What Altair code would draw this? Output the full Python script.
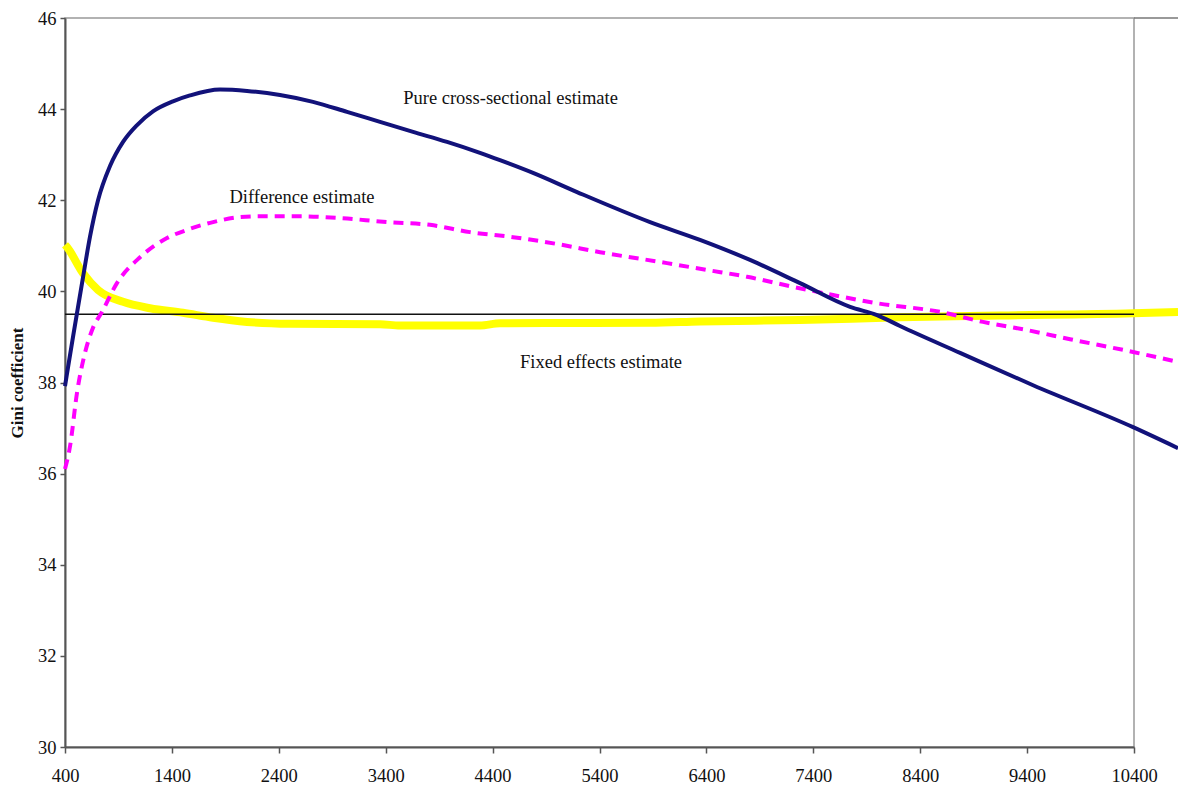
import altair as alt
import pandas as pd

# ---- data ----
cs_x = [400, 419, 475, 522, 568, 634, 709, 821, 943, 1074, 1223, 1410, 1569, 1850,
        2103, 2411, 2720, 3038, 3347, 3656, 3974, 4282, 4469, 4778, 5190, 5873,
        6340, 6808, 7276, 7744, 7996, 8211, 8773, 9456, 10391, 10812]
cs_y = [37.92, 38.2, 39.0, 39.66, 40.3, 41.2, 42.0, 42.75, 43.28, 43.65, 43.95, 44.17,
        44.3, 44.43, 44.4, 44.31, 44.16, 43.94, 43.72, 43.5, 43.28, 43.04, 42.88,
        42.6, 42.18, 41.52, 41.13, 40.69, 40.18, 39.66, 39.48, 39.24, 38.65, 37.94,
        37.02, 36.56]

diff_x = [400, 447, 512, 587, 662, 746, 886, 1102, 1354, 1541, 1785, 2037, 2252,
          2570, 2973, 3412, 3815, 4189, 4591, 5003, 5405, 6032, 6406, 6780, 7210,
          7585, 7996, 8586, 8988, 9400, 9802, 10391, 10812]
diff_y = [36.1, 36.6, 37.77, 38.65, 39.2, 39.55, 40.18, 40.75, 41.17, 41.35, 41.52,
          41.63, 41.65, 41.65, 41.61, 41.52, 41.46, 41.3, 41.19, 41.04, 40.86, 40.62,
          40.47, 40.32, 40.1, 39.92, 39.74, 39.55, 39.33, 39.15, 38.95, 38.67, 38.45]

fe_x = [400, 419, 568, 709, 943, 1195, 1504, 1785, 2103, 2505, 3347, 3534, 4282,
        4469, 5873, 6340, 7276, 8211, 9147, 10391, 10812]
fe_y = [41.02, 40.97, 40.4, 40.03, 39.77, 39.63, 39.53, 39.42, 39.33, 39.29, 39.28,
        39.25, 39.25, 39.3, 39.31, 39.34, 39.37, 39.43, 39.47, 39.52, 39.55]

ref_value = 39.5
ref_start, ref_end = 400, 10400

x_ticks = [400, 1400, 2400, 3400, 4400, 5400, 6400, 7400, 8400, 9400, 10400]
y_ticks = [30, 32, 34, 36, 38, 40, 42, 44, 46]

label_text = ["Pure cross-sectional estimate", "Difference estimate", "Fixed effects estimate"]
label_x = [4568, 2617, 5414]
label_y = [44.255, 42.07, 38.44]

# ---- tables ----
cs_df = pd.DataFrame({"x": cs_x, "y": cs_y})
diff_df = pd.DataFrame({"x": diff_x, "y": diff_y})
fe_df = pd.DataFrame({"x": fe_x, "y": fe_y})
ref_df = pd.DataFrame({"x": [ref_start], "x2": [ref_end], "y": [ref_value]})
lab_df = pd.DataFrame({"text": label_text, "x": label_x, "y": label_y})

SERIF = "Liberation Serif"

xscale = alt.Scale(domain=[400, 10400], nice=False, zero=False)
yscale = alt.Scale(domain=[30, 46], nice=False, zero=False)

x_enc = alt.X("x:Q", scale=xscale,
              axis=alt.Axis(values=x_ticks, title=None, grid=False, tickSize=6,
                            labelPadding=13, format="d", labelOverlap=False,
                            labelFlush=False, labelFontSize=18.5))
y_enc = alt.Y("y:Q", scale=yscale,
              axis=alt.Axis(values=y_ticks, title="Gini coefficient", grid=False,
                            tickSize=5, labelPadding=4, titlePadding=11,
                            labelFlush=False, labelFontSize=18.5,
                            titleFont=SERIF, titleFontSize=17, titleFontWeight="bold",
                            titleColor="#111"))

fe_line = alt.Chart(fe_df).mark_line(color="#ffff00", strokeWidth=8, clip=False,
                                     interpolate="monotone").encode(x=x_enc, y=y_enc)

ref_rule = alt.Chart(ref_df).mark_rule(color="#111111", strokeWidth=1.5).encode(
    x="x:Q", x2="x2:Q", y="y:Q")

diff_line = alt.Chart(diff_df).mark_line(
    color="#ff00ff", strokeWidth=4, strokeDash=[10, 7], clip=False,
    interpolate="monotone").encode(x="x:Q", y="y:Q")

cs_line = alt.Chart(cs_df).mark_line(color="#12127a", strokeWidth=4, clip=False,
                                     interpolate="monotone").encode(x="x:Q", y="y:Q")

top_ext = alt.Chart(ref_df).mark_rule(color="#777777", strokeWidth=1.5, clip=False).encode(
    x=alt.value(1069), x2=alt.value(1113), y=alt.value(0))

labels = alt.Chart(lab_df).mark_text(font=SERIF, fontSize=18.5, color="#111111",
                                     align="center", baseline="middle").encode(
    x="x:Q", y="y:Q", text="text:N")

chart = alt.layer(fe_line, ref_rule, diff_line, cs_line, top_ext, labels).properties(
    width=1069, height=729,
    autosize=alt.AutoSizeParams(type="none"),
    padding={"left": 65, "top": 18, "right": 44, "bottom": 49},
    background="white",
).configure_view(
    stroke="#999999", strokeWidth=1.5
).configure_axis(
    labelFont=SERIF, labelFontSize=18, labelColor="#111111",
    domainColor="#555555", domainWidth=2, tickColor="#555555", tickWidth=1.5,
)

chart.save("out.html", embed_options={"renderer": "svg", "actions": False})
